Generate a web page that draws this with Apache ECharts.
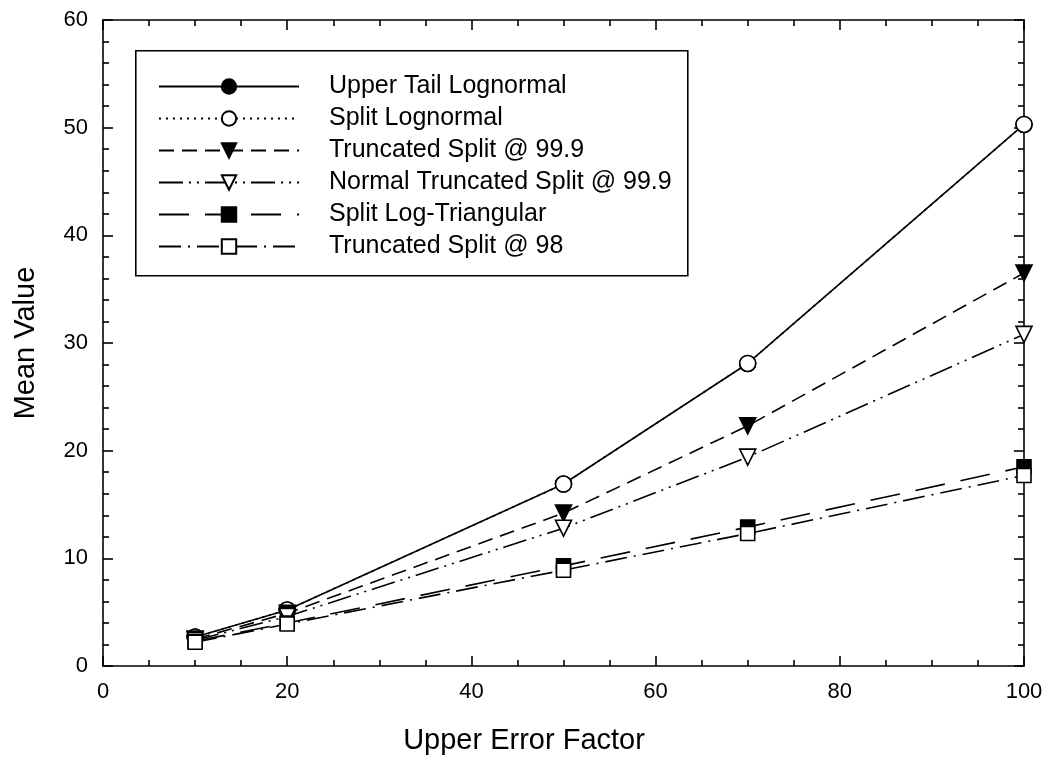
<!DOCTYPE html>
<html>
<head>
<meta charset="utf-8">
<script src="https://cdn.jsdelivr.net/npm/echarts@6/dist/echarts.min.js"></script>
<style>
html,body{margin:0;padding:0;background:#fff;}
#chart{width:1049px;height:764px;}
</style>
</head>
<body>
<div id="chart"></div>
<script>
var xValues = [10, 20, 50, 70, 100];
var upperTail = [2.7, 5.2, 16.9, 28.1, 50.3];
var splitLognormal = [2.7, 5.2, 16.9, 28.1, 50.3];
var truncSplit999 = [2.5, 4.9, 14.2, 22.3, 36.5];
var normalTruncSplit999 = [2.4, 4.6, 12.8, 19.4, 30.8];
var splitLogTriangular = [2.3, 4.0, 9.3, 12.9, 18.5];
var truncSplit98 = [2.2, 3.9, 8.9, 12.3, 17.7];
var seriesNames = ['Upper Tail Lognormal', 'Split Lognormal', 'Truncated Split @ 99.9',
  'Normal Truncated Split @ 99.9', 'Split Log-Triangular', 'Truncated Split @ 98'];
var xTitle = 'Upper Error Factor';
var yTitle = 'Mean Value';

function pairs(ys) { return xValues.map(function (x, i) { return [x, ys[i]]; }); }

var FONT = 'Liberation Sans';
var downTri = 'path://M0,0 L10,0 L5,10 Z';

function mk(name, ys, symbol, size, fill, dash) {
  return {
    name: name, type: 'line', data: pairs(ys),
    symbol: symbol, symbolSize: size,
    lineStyle: { color: '#000', width: 1.6, type: dash },
    itemStyle: { color: fill, borderColor: '#000', borderWidth: 1.6 },
    emphasis: { disabled: true },
    animation: false, z: 3
  };
}

var chart = echarts.init(document.getElementById('chart'), null, { renderer: 'canvas' });

function axisBase(extra) {
  var base = {
    min: 0,
    axisLine: { show: true, onZero: false, lineStyle: { color: '#000', width: 1.6 } },
    axisTick: { show: true, inside: true, length: 10, lineStyle: { color: '#000', width: 1.6 } },
    minorTick: { show: true, length: 6, lineStyle: { color: '#000', width: 1.6 } },
    splitLine: { show: false }
  };
  return Object.assign(base, extra);
}

chart.setOption({
  animation: false,
  grid: { left: 103, right: 25, top: 20, bottom: 98, containLabel: false },
  xAxis: [
    axisBase({
      type: 'value', max: 100, interval: 20, position: 'bottom',
      minorTick: { show: true, splitNumber: 4, length: 6, lineStyle: { color: '#000', width: 1.6 } },
      axisLabel: { color: '#000', fontSize: 22, fontFamily: FONT, margin: 15 }
    }),
    axisBase({
      type: 'value', max: 100, interval: 20, position: 'top',
      minorTick: { show: true, splitNumber: 4, length: 6, lineStyle: { color: '#000', width: 1.6 } },
      axisLabel: { show: false }
    })
  ],
  yAxis: [
    axisBase({
      type: 'value', max: 60, interval: 10, position: 'left',
      minorTick: { show: true, splitNumber: 5, length: 6, lineStyle: { color: '#000', width: 1.6 } },
      axisLabel: { color: '#000', fontSize: 22, fontFamily: FONT, margin: 15 },
      name: yTitle, nameLocation: 'middle', nameGap: 63,
      nameTextStyle: { color: '#000', fontSize: 29, fontFamily: FONT }
    }),
    axisBase({
      type: 'value', max: 60, interval: 10, position: 'right',
      minorTick: { show: true, splitNumber: 5, length: 6, lineStyle: { color: '#000', width: 1.6 } },
      axisLabel: { show: false }
    })
  ],
  legend: {
    show: true,
    orient: 'vertical',
    left: 153, top: 69,
    itemWidth: 140, itemHeight: 18, itemGap: 7,
    selectedMode: false,
    textStyle: { color: '#000', fontSize: 25, lineHeight: 25, fontFamily: FONT, padding: [0, 0, 0, 25] },
    data: seriesNames
  },
  graphic: [{
    type: 'rect', left: 135, top: 50, z: 1,
    shape: { width: 552, height: 225 },
    style: { fill: '#fff', stroke: '#000', lineWidth: 1.6 }
  }, {
    type: 'text', x: 524, y: 741, z: 5,
    style: { text: xTitle, fill: '#000', font: '29px "Liberation Sans"', textAlign: 'center', textVerticalAlign: 'middle' }
  }],
  series: [
    mk(seriesNames[0], upperTail, 'circle', 16, '#000', 'solid'),
    mk(seriesNames[1], splitLognormal, 'circle', 16, '#fff', [2, 5]),
    mk(seriesNames[2], truncSplit999, downTri, 16, '#000', [15, 8]),
    mk(seriesNames[3], normalTruncSplit999, downTri, 16, '#fff', [24, 6, 2, 6, 2, 6]),
    mk(seriesNames[4], splitLogTriangular, 'rect', 14, '#000', [30, 16]),
    mk(seriesNames[5], truncSplit98, 'rect', 14, '#fff', [22, 7, 2, 7])
  ]
});
</script>
</body>
</html>
